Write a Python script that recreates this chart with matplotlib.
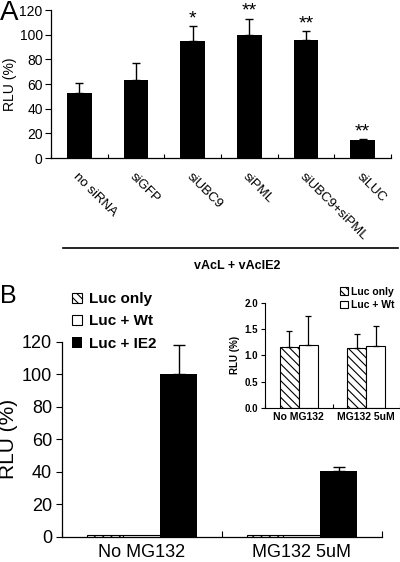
import numpy as np
import matplotlib
matplotlib.use('Agg')
import matplotlib.pyplot as plt

plt.rcParams['font.family'] = ['Liberation Sans', 'DejaVu Sans']
plt.rcParams['hatch.linewidth'] = 0.8

# panel A
a_labels = ['no siRNA', 'siGFP', 'siUBC9', 'siPML', 'siUBC9+siPML', 'siLUC']
a_vals = [53, 63, 95, 100, 96, 14.5]
a_top = [61, 77, 107, 113, 103, 15.5]
a_stars = ['', '', '*', '**', '**', '**']

# panel B
b_groups = ['No MG132', 'MG132 5uM']
b_luc = [1.15, 1.14]
b_wt = [1.2, 1.18]
b_ie2 = [100, 40.5]
b_ie2_top = [118, 43]
b_luc_top = [1.47, 1.40]
b_wt_top = [1.75, 1.56]

W, H = 400, 562
fig = plt.figure(figsize=(4, 5.62), dpi=100)

def rect(x0, y0, x1, y1):
  return [x0 / W, 1 - y1 / H, (x1 - x0) / W, (y1 - y0) / H]

def style(ax, lw=0.9):
  for s in ['top', 'right']:
    ax.spines[s].set_visible(False)
  for s in ['left', 'bottom']:
    ax.spines[s].set_linewidth(lw)

# ---- A
axA = fig.add_axes(rect(51, 10, 391, 158))
x = np.arange(len(a_labels))
axA.bar(x, a_vals, width=0.43, color='black')
axA.errorbar(x, a_vals, yerr=[np.zeros(len(x)), np.array(a_top) - np.array(a_vals)],
             fmt='none', ecolor='black', elinewidth=1, capsize=3, capthick=1)
for i, s in enumerate(a_stars):
  if s:
    axA.text(x[i], a_top[i] - 1, s, ha='center', va='bottom', fontsize=14)
axA.set_xlim(-0.5, 5.5)
axA.set_ylim(0, 120)
axA.set_yticks(range(0, 121, 20))
axA.set_xticks(np.arange(-0.5, 5.6, 1))
axA.set_xticklabels([])
axA.set_xticks(x, minor=True)
axA.set_xticklabels(a_labels, minor=True, rotation=-45, ha='left', va='top',
                    rotation_mode='anchor', fontsize=9.5)
axA.tick_params(axis='x', which='major', direction='in', length=3)
axA.tick_params(axis='x', which='minor', length=0, pad=9)
axA.tick_params(axis='y', direction='out', length=4, labelsize=10, pad=2)
axA.set_ylabel('RLU (%)', fontsize=10, labelpad=2)
style(axA)
fig.text(0 / W, 1 - 0 / H, 'A', fontsize=20, ha='left', va='top')
fig.add_artist(plt.Line2D([63 / W, 398 / W], [1 - 248 / H] * 2, color='black', lw=1.2))
fig.text(237 / W, 1 - 266 / H, 'vAcL + vAcIE2', fontsize=9, fontweight='bold',
         ha='center', va='center')

# ---- B main
axB = fig.add_axes(rect(61.7, 342, 381.7, 536.7))
gx = np.arange(len(b_groups))
bw = 0.23
h1 = axB.bar(gx - bw, b_luc, bw, color='white', edgecolor='black', hatch='\\\\\\\\', lw=0.8)
h2 = axB.bar(gx, b_wt, bw, color='white', edgecolor='black', lw=0.8)
h3 = axB.bar(gx + bw, b_ie2, bw, color='black')
axB.errorbar(gx + bw, b_ie2, yerr=[np.zeros(2), np.array(b_ie2_top) - np.array(b_ie2)],
             fmt='none', ecolor='black', elinewidth=1, capsize=4, capthick=1)
axB.set_xlim(-0.5, 1.5)
axB.set_ylim(0, 120)
axB.set_yticks(range(0, 121, 20))
axB.set_xticks([-0.5, 0.5, 1.5])
axB.set_xticklabels([])
axB.set_xticks(gx, minor=True)
axB.set_xticklabels(b_groups, minor=True, fontsize=13)
axB.tick_params(axis='x', which='major', direction='in', length=4)
axB.tick_params(axis='x', which='minor', length=0, pad=5)
axB.tick_params(axis='y', direction='out', length=4, labelsize=13, pad=3)
axB.set_ylabel('RLU (%)', fontsize=15, labelpad=3)
style(axB)
fig.text(0 / W, 1 - 284 / H, 'B', fontsize=18, ha='left', va='top')
fig.legend([h1, h2, h3], ['Luc only', 'Luc + Wt', 'Luc + IE2'],
           loc='upper left', bbox_to_anchor=(72 / W, 1 - 292 / H), frameon=False,
           prop={'weight': 'bold', 'size': 11}, handlelength=0.65, handleheight=0.65,
           handletextpad=0.45, labelspacing=0.55, borderaxespad=0, borderpad=0)

# ---- B inset
axI = fig.add_axes(rect(265, 302.7, 400, 408))
iw = 0.28
i1 = axI.bar(gx - iw / 2, b_luc, iw, color='white', edgecolor='black', hatch='\\\\\\\\', lw=0.8)
i2 = axI.bar(gx + iw / 2, b_wt, iw, color='white', edgecolor='black', lw=0.8)
axI.errorbar(gx - iw / 2, b_luc, yerr=[np.zeros(2), np.array(b_luc_top) - np.array(b_luc)],
             fmt='none', ecolor='black', elinewidth=0.9, capsize=2.5, capthick=0.9)
axI.errorbar(gx + iw / 2, b_wt, yerr=[np.zeros(2), np.array(b_wt_top) - np.array(b_wt)],
             fmt='none', ecolor='black', elinewidth=0.9, capsize=2.5, capthick=0.9)
axI.set_xlim(-0.5, 1.5)
axI.set_ylim(0, 2.0)
axI.set_yticks(np.arange(0, 2.01, 0.5))
axI.set_yticklabels(['%.1f' % v for v in np.arange(0, 2.01, 0.5)], fontweight='bold')
axI.set_xticks([-0.5, 0.5, 1.5])
axI.set_xticklabels([])
axI.set_xticks(gx, minor=True)
axI.set_xticklabels(b_groups, minor=True, fontsize=7.5, fontweight='bold')
axI.tick_params(axis='x', which='major', direction='in', length=3)
axI.tick_params(axis='x', which='minor', length=0, pad=3)
axI.tick_params(axis='y', direction='out', length=3, labelsize=7, pad=2)
axI.set_ylabel('RLU (%)', fontsize=7, fontweight='bold', labelpad=3)
style(axI, 0.8)
fig.legend([i1, i2], ['Luc only', 'Luc + Wt'],
           loc='upper left', bbox_to_anchor=(340 / W, 1 - 287 / H), frameon=False,
           prop={'weight': 'bold', 'size': 7.5}, handlelength=0.8, handleheight=0.8,
           handletextpad=0.3, labelspacing=0.3, borderaxespad=0, borderpad=0)

fig.savefig('out.png', dpi=100)
